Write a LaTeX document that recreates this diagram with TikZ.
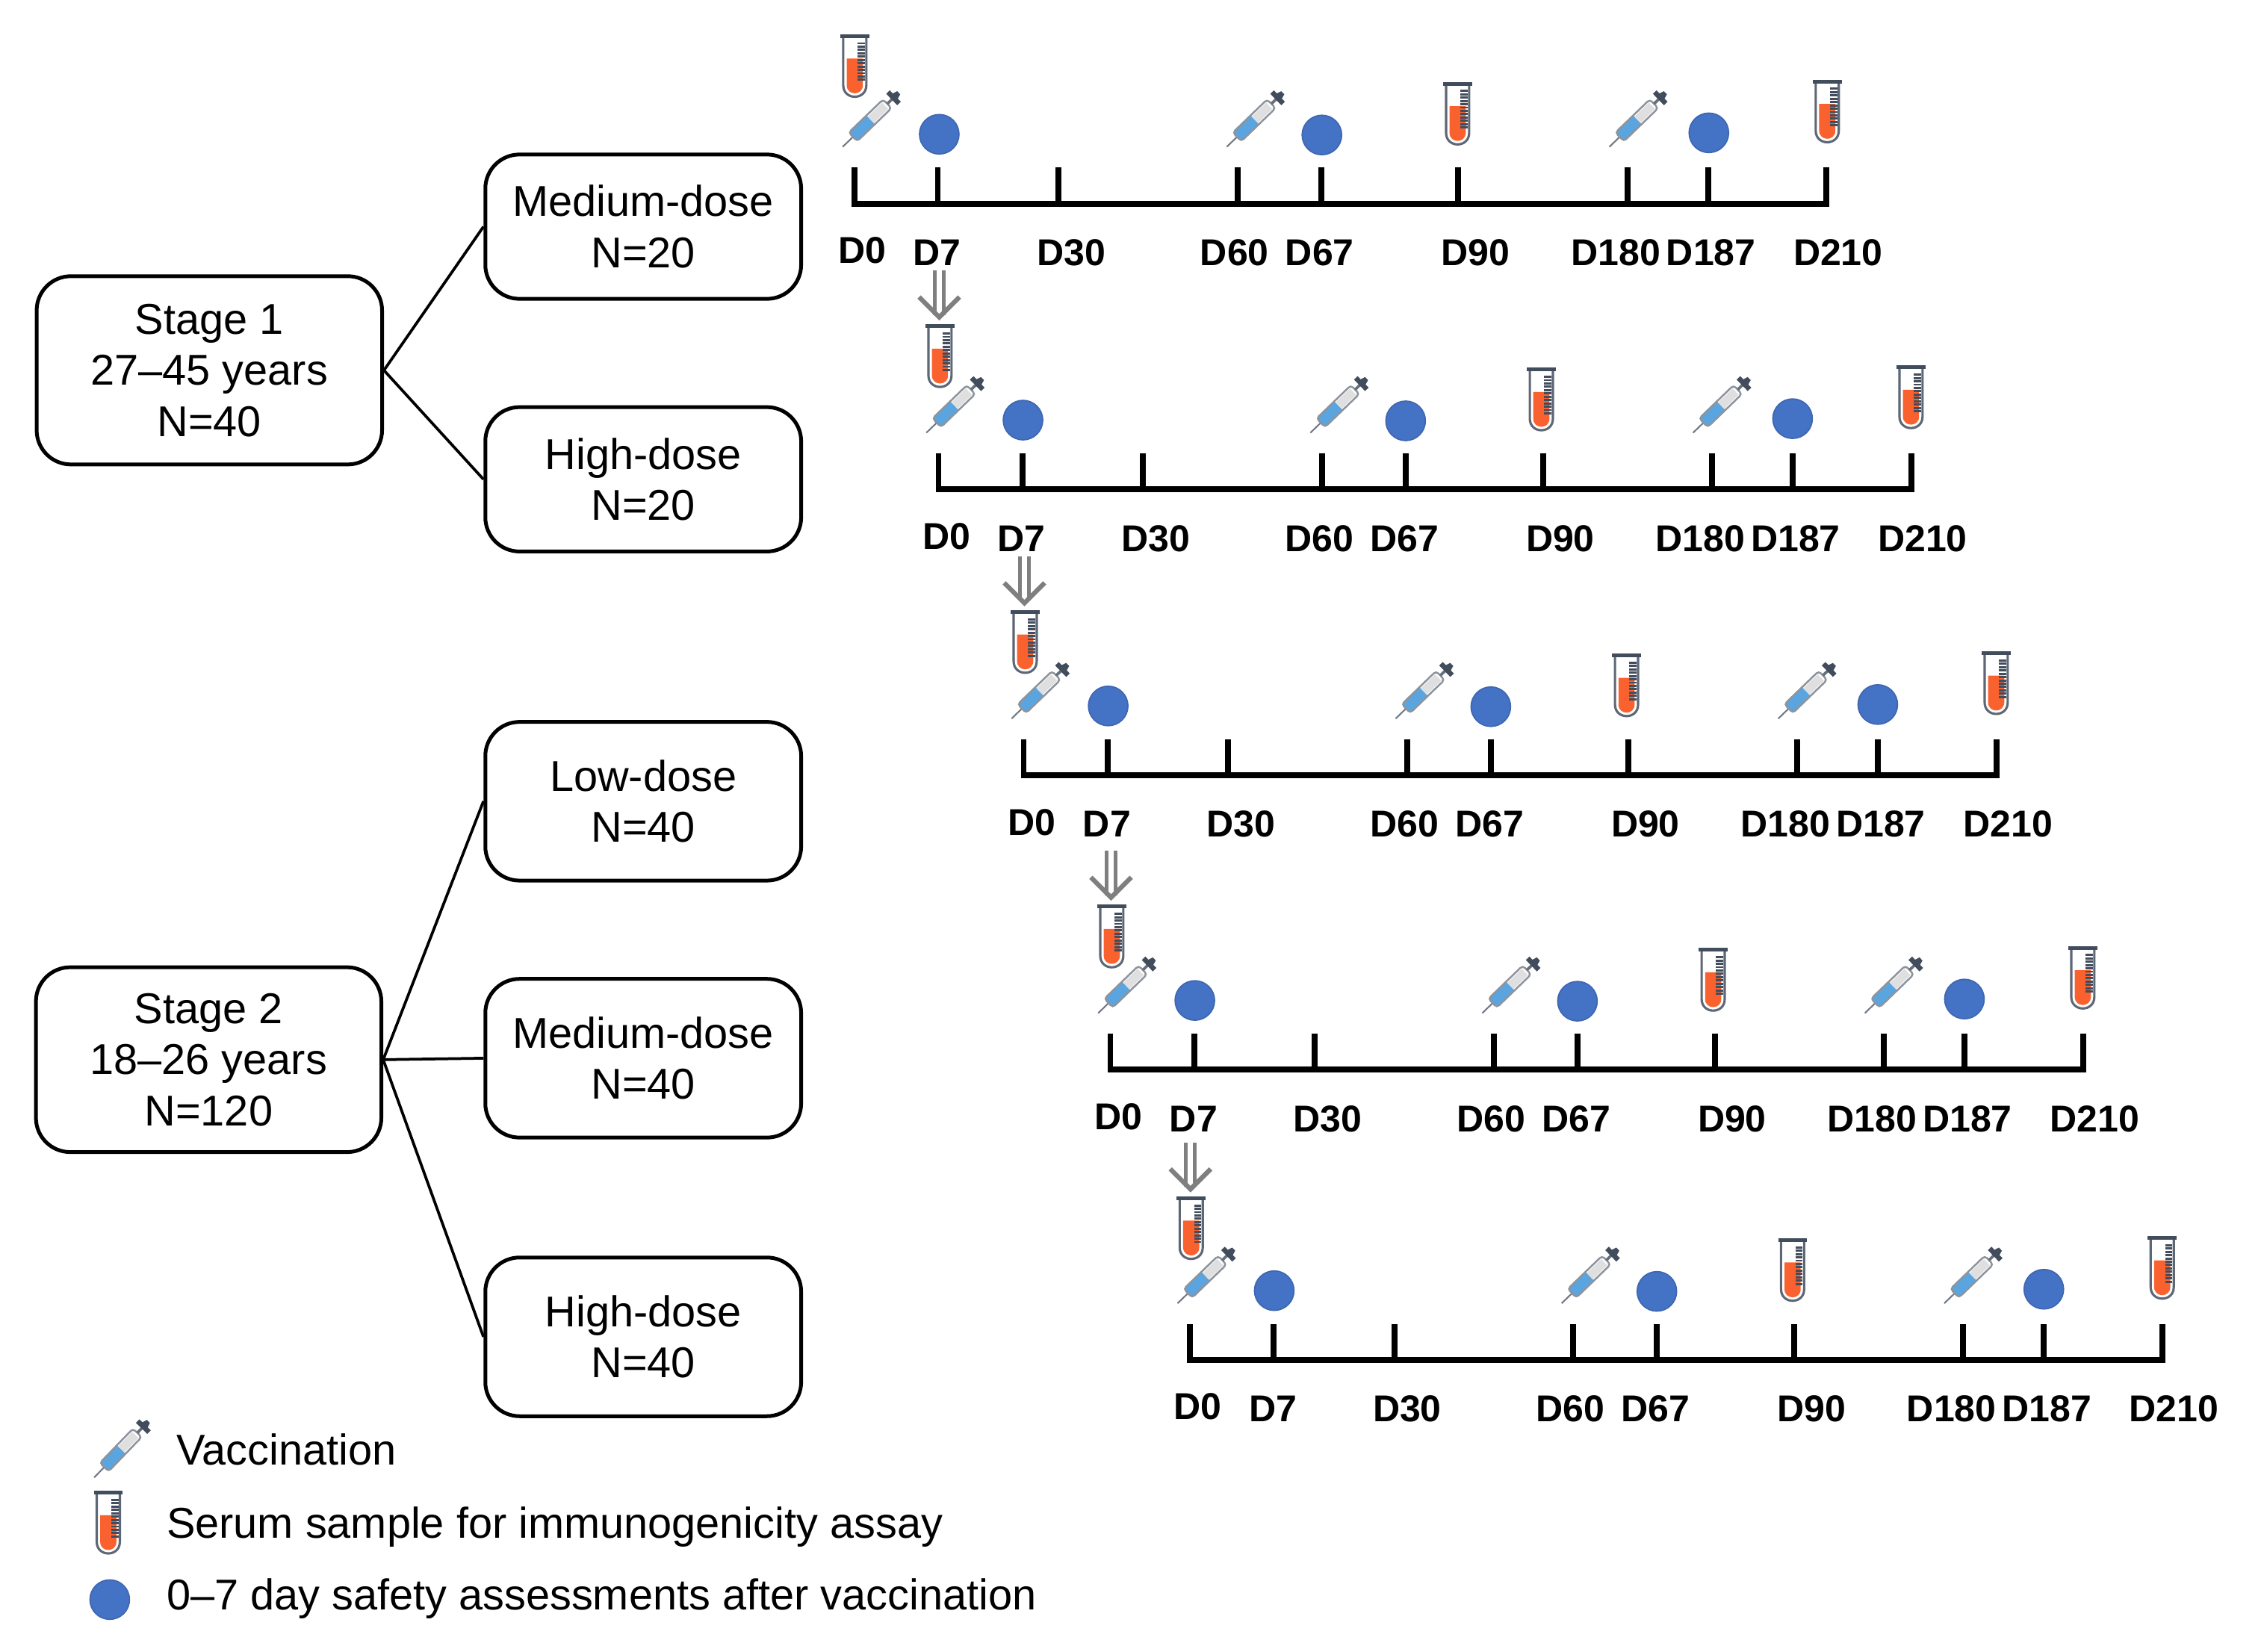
\documentclass[tikz,border=0pt]{standalone}
\usepackage{fontspec}
\setmainfont{Liberation Sans}
\usetikzlibrary{arrows.meta}
\definecolor{dotblue}{HTML}{4472C4}
\definecolor{dotedge}{HTML}{3F66B0}
\definecolor{liquid}{HTML}{5AA5E0}
\definecolor{serum}{HTML}{F9622F}
\definecolor{glass}{HTML}{414C5C}
\definecolor{arrgray}{HTML}{7F7F7F}
\tikzset{
	boxed/.style={draw, line width=1.2pt, rounded corners=11pt, align=center, inner sep=0pt,
		font=\fontsize{13.85}{16.4}\selectfont},
	stagebox/.style={boxed, minimum width=111pt},
	dosebox/.style={boxed, minimum width=101.5pt},
	link/.style={line width=.9pt},
	axis/.style={line width=1.9pt, line cap=rect},
	day/.style={font=\fontsize{12}{13}\selectfont\bfseries, inner sep=0pt},
	legendtext/.style={font=\fontsize{13.85}{16}\selectfont, inner sep=0pt, anchor=west},
	nextdose/.style={draw=arrgray, double, line width=1.2pt, double distance=1.6pt,
		-{Straight Barb[length=6.5pt, width=13pt, line width=1.5pt]}},
	dot/.pic={
		\fill [dotblue, draw=dotedge, line width=.4pt] (0,0) circle (13.7);
	},
	syringe/.pic={
		\draw [glass!75, line width=.5pt] (-27,0) -- (-16,0);
		\fill [liquid] (-17,-4) rectangle (0,4);
		\fill [gray!25] (0,-3) rectangle (14,3);
		\draw [glass!60, line width=.6pt, rounded corners=1pt] (-17,-4.2) rectangle (16,4.2);
		\draw [glass!80, line width=.9pt] (16,0) -- (22,0);
		\draw [glass, line width=1.6pt] (22,-5.5) -- (22,5.5);
		\fill [glass] (22,-3) -- (27,-1.5) -- (27,1.5) -- (22,3) -- cycle;
	},
	tube/.pic={
		\fill [serum] (-5.6,-5.5) -- (5.6,-5.5) -- (5.6,13) .. controls (5.6,20.5) and (-5.6,20.5) .. (-5.6,13) -- cycle;
		\draw [glass!85, line width=.75pt] (-8,-21) -- (-8,13) .. controls (-8,23.7) and (8,23.7) .. (8,13) -- (8,-21);
		\draw [glass, line width=1.2pt] (-10,-21) -- (10,-21);
		\foreach \k in {0,...,11}{
			\draw [glass, line width=.7pt] (2,-16+\k*2.3) -- (7,-16+\k*2.3);
		}
	}
}
\begin{document}
\begin{tikzpicture}[x=.464pt, y=-.464pt]
	\useasboundingbox (0,0) rectangle (1568,1144);
	% groups
	\node [stagebox, minimum height=60.5pt] (stageA) at (145,256.5) {Stage 1\\27--45 years\\N=40};
	\node [dosebox, minimum height=46.4pt] (doseA) at (445.5,157) {Medium-dose\\N=20};
	\node [dosebox, minimum height=46.4pt] (doseB) at (445.5,332) {High-dose\\N=20};
	\node [stagebox, minimum height=59.4pt] (stageB) at (144.5,734) {Stage 2\\18--26 years\\N=120};
	\node [dosebox, minimum height=51pt] (doseC) at (445.5,555) {Low-dose\\N=40};
	\node [dosebox, minimum height=51pt] (doseD) at (445.5,733) {Medium-dose\\N=40};
	\node [dosebox, minimum height=51pt] (doseE) at (445.5,926) {High-dose\\N=40};
	\foreach \a/\b in {stageA/doseA,stageA/doseB,stageB/doseC,stageB/doseD,stageB/doseE}{
		\draw [link] (\a.east) -- (\b.west);
	}
	% schedules
	\foreach \r/\x/\y/\u/\v in {1/592/141/0/-95,2/650/339/1/-92,3/709/537/1/-92,4/769/741/1/-92,5/824/942/1/-91}{
		\begin{scope}[shift={(\x,\y)}]
			\foreach \d/\t/\l in {7/57.5/57,30/141/150,60/265/263,67/323/322,90/418/430,180/535/527,187/591/593,210/673/681}{
				\coordinate (t\r-\d) at (\t+\u*.6,0);
				\draw [axis] (t\r-\d) -- ++(0,-23);
				\node [day] (l\r-\d) at (\l+\u*.6,34) {D\d};
			}
			\coordinate (t\r-0) at (0,0);
			\draw [axis] (t\r-0) -- ++(0,-23);
			\node [day] (l\r-0) at (5+\u*.6,32.5) {D0};
			\draw [axis] (t\r-0) -- (t\r-210);
			\foreach \t in {11,277,542}{
				\pic [rotate=44] at (\t,-58) {syringe};
			}
			\foreach \t/\w in {58.5/-48,323.5/-47.5,591.5/-49}{
				\pic at (\t,\w) {dot};
			}
			\coordinate (s\r) at (\u,\v-21);
			\pic at (\u,\v) {tube};
			\pic at (417.5,-62) {tube};
			\pic at (673.5,-63.5) {tube};
		\end{scope}
	}
	\foreach \r/\n/\g in {1/2/3,2/3/3,3/4/9,4/5/7}{
		\draw [nextdose] (s\n |- l\r-7.south) ++(-.5,\g) -- ([shift={(-.5,-4)}]s\n);
	}
	% legend
	\pic [rotate=46] at (84,1004) {syringe};
	\pic at (75,1055) {tube};
	\pic at (76,1108) {dot};
	\node [legendtext] (lgA) at (122,1004) {Vaccination};
	\node [legendtext] (lgB) at (115,1057.5) {Serum sample for immunogenicity assay};
	\node [legendtext] (lgC) at (115,1107.5) {0--7 day safety assessments after vaccination};
\end{tikzpicture}
\end{document}
